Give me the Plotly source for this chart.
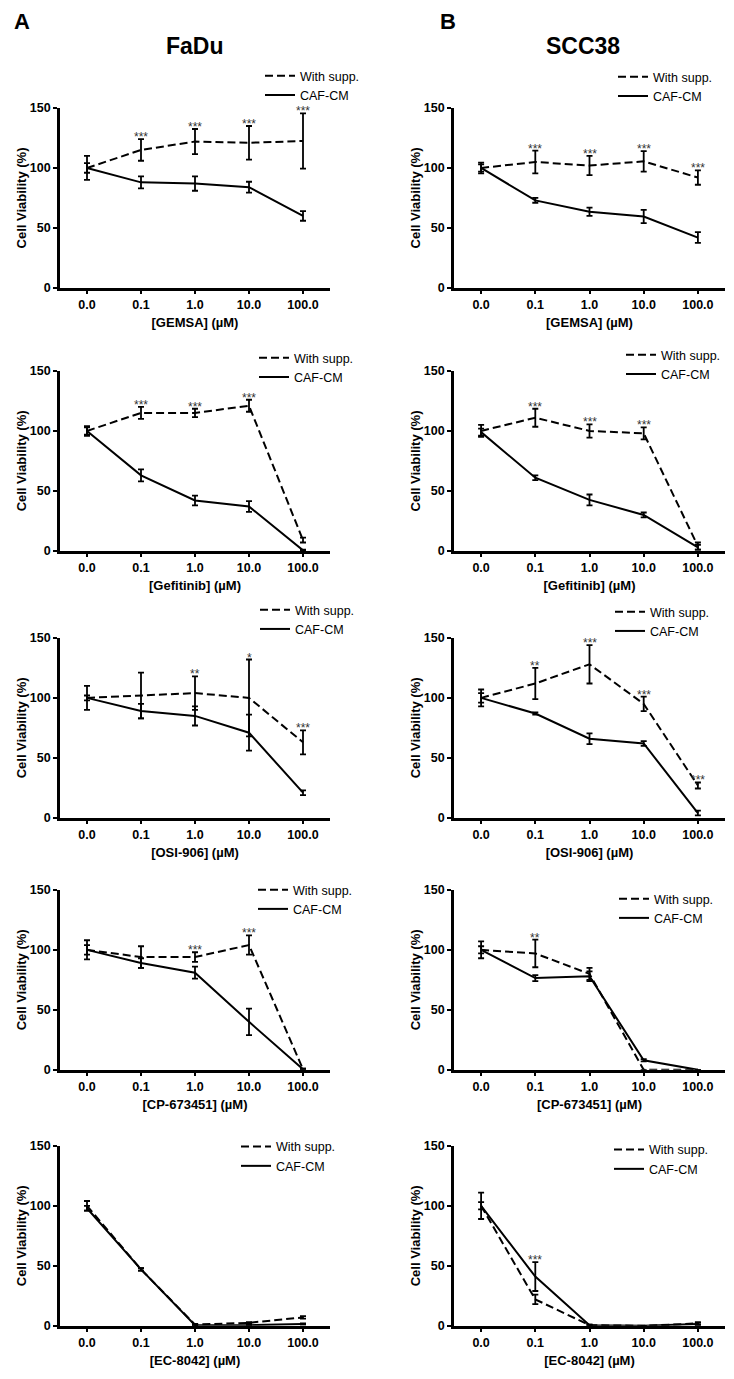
"""
Cell viability dose-response panels, FaDu (A) and SCC38 (B).
"""

import plotly.graph_objects as go


# x categories (µM)
doses = ['0.0', '0.1', '1.0', '10.0', '100.0']
compounds = ['GEMSA', 'Gefitinib', 'OSI-906', 'CP-673451', 'EC-8042']

# FaDu
fadu_gemsa_supp = [100, 115, 122, 121, 122.5]
fadu_gemsa_supp_err = [10, 9, 10.5, 14, 23]
fadu_gemsa_caf = [100, 88, 87, 84, 60]
fadu_gemsa_caf_err = [4, 5, 6, 4.5, 4]
fadu_gemsa_stars = ['', '***', '***', '***', '***']

fadu_gef_supp = [100, 115, 115, 121, 9]
fadu_gef_supp_err = [4, 5, 3.5, 5, 2]
fadu_gef_caf = [100, 63, 42, 37, 0.5]
fadu_gef_caf_err = [3, 5, 4, 4.5, 0.5]
fadu_gef_stars = ['', '***', '***', '***', '']

fadu_osi_supp = [100, 102, 104, 100, 63]
fadu_osi_supp_err = [10, 19, 14, 32, 10]
fadu_osi_caf = [100, 89, 85, 71, 21]
fadu_osi_caf_err = [2, 6, 8, 15, 2]
fadu_osi_stars = ['', '', '**', '*', '***']

fadu_cp_supp = [100, 94, 94, 104, 0.5]
fadu_cp_supp_err = [8, 9, 4, 8, 0.5]
fadu_cp_caf = [100, 89, 81, 40, 0.5]
fadu_cp_caf_err = [4, 4, 5, 11, 0.5]
fadu_cp_stars = ['', '', '***', '***', '']

fadu_ec_supp = [100, 47, 1, 2.5, 7]
fadu_ec_supp_err = [4, 1, 0.5, 0.5, 1]
fadu_ec_caf = [98, 47, 0.5, 0.5, 1.5]
fadu_ec_caf_err = [2, 1, 0.5, 0.5, 0.5]
fadu_ec_stars = ['', '', '', '', '']

# SCC38
scc_gemsa_supp = [100, 105, 102, 105.5, 92]
scc_gemsa_supp_err = [4.5, 9.5, 8, 8.5, 6]
scc_gemsa_caf = [100, 73, 63.5, 59.5, 42]
scc_gemsa_caf_err = [3, 2, 3.5, 5.5, 4.5]
scc_gemsa_stars = ['', '***', '***', '***', '***']

scc_gef_supp = [100, 111, 100, 98, 4]
scc_gef_supp_err = [5, 7.5, 5.5, 5, 3]
scc_gef_caf = [99, 61, 42.5, 30, 3]
scc_gef_caf_err = [3, 2, 4.5, 2, 2]
scc_gef_stars = ['', '***', '***', '***', '']

scc_osi_supp = [100, 112, 128, 95, 27]
scc_osi_supp_err = [7, 13, 16, 6, 2.5]
scc_osi_caf = [100, 87, 66, 62, 4]
scc_osi_caf_err = [4, 1, 4.5, 2, 2]
scc_osi_stars = ['', '**', '***', '***', '***']

scc_cp_supp = [100, 97, 80, 0, 0]
scc_cp_supp_err = [7, 11.5, 5, 0, 0]
scc_cp_caf = [100, 76.5, 78, 8, 0]
scc_cp_caf_err = [3, 2.5, 4, 1, 0]
scc_cp_stars = ['', '**', '', '', '']

scc_ec_supp = [100, 22, 0.5, 0, 2]
scc_ec_supp_err = [3, 4, 0.5, 0, 1]
scc_ec_caf = [100, 41, 0.5, 0, 1.5]
scc_ec_caf_err = [11, 12, 0.5, 0, 1]
scc_ec_stars = ['', '***', '', '', '']


# panels in reading order: (supp, supp_err, caf, caf_err, stars, compound)
panels = [
    (fadu_gemsa_supp, fadu_gemsa_supp_err, fadu_gemsa_caf, fadu_gemsa_caf_err, fadu_gemsa_stars, compounds[0]),
    (scc_gemsa_supp, scc_gemsa_supp_err, scc_gemsa_caf, scc_gemsa_caf_err, scc_gemsa_stars, compounds[0]),
    (fadu_gef_supp, fadu_gef_supp_err, fadu_gef_caf, fadu_gef_caf_err, fadu_gef_stars, compounds[1]),
    (scc_gef_supp, scc_gef_supp_err, scc_gef_caf, scc_gef_caf_err, scc_gef_stars, compounds[1]),
    (fadu_osi_supp, fadu_osi_supp_err, fadu_osi_caf, fadu_osi_caf_err, fadu_osi_stars, compounds[2]),
    (scc_osi_supp, scc_osi_supp_err, scc_osi_caf, scc_osi_caf_err, scc_osi_stars, compounds[2]),
    (fadu_cp_supp, fadu_cp_supp_err, fadu_cp_caf, fadu_cp_caf_err, fadu_cp_stars, compounds[3]),
    (scc_cp_supp, scc_cp_supp_err, scc_cp_caf, scc_cp_caf_err, scc_cp_stars, compounds[3]),
    (fadu_ec_supp, fadu_ec_supp_err, fadu_ec_caf, fadu_ec_caf_err, fadu_ec_stars, compounds[4]),
    (scc_ec_supp, scc_ec_supp_err, scc_ec_caf, scc_ec_caf_err, scc_ec_stars, compounds[4]),
]


# layout in pixels (as measured on the target picture)
W, H = 734, 1379
col_x = [(60, 330), (454, 725)]
row_y = [(108, 288), (371, 551), (638, 818), (890, 1070), (1146, 1326)]
# left edge of legend box, centre of first legend entry
legend_pos = [(260, 76), (613, 77), (254, 358), (621, 355), (255, 610),
              (610, 612), (253, 890), (614, 899), (236, 1147), (609, 1150)]


def py(y):
    # target pixel row -> paper fraction (small correction for how the page gets captured)
    return 1 - ((y - 7) / 0.99) / H


FONT = 'Arial, Liberation Sans, sans-serif'

fig = go.Figure()
layout = dict(width=W, height=H, margin=dict(l=0, r=0, t=0, b=0),
              plot_bgcolor='white', paper_bgcolor='white',
              font=dict(family=FONT, color='black'), annotations=[])

for i, (supp, supp_err, caf, caf_err, stars, name) in enumerate(panels):
    n = i + 1
    sfx = '' if n == 1 else str(n)
    r, c = divmod(i, 2)
    x0, x1 = col_x[c]
    y0, y1 = row_y[r]
    leg = 'legend' + sfx

    fig.add_trace(go.Scatter(x=doses, y=supp, name='With supp.', mode='lines',
                             line=dict(color='black', width=2, dash='8px,4px'),
                             error_y=dict(type='data', array=supp_err, color='black', thickness=1.8, width=3),
                             xaxis='x' + sfx, yaxis='y' + sfx, legend=leg, cliponaxis=False))
    fig.add_trace(go.Scatter(x=doses, y=caf, name='CAF-CM', mode='lines',
                             line=dict(color='black', width=2),
                             error_y=dict(type='data', array=caf_err, color='black', thickness=1.8, width=3),
                             xaxis='x' + sfx, yaxis='y' + sfx, legend=leg, cliponaxis=False))

    layout['xaxis' + sfx] = dict(
        domain=[x0 / W, x1 / W], anchor='y' + sfx, type='category', range=[-0.5, 4.5],
        showline=True, linewidth=2.8, linecolor='black', ticks='outside', ticklen=3, tickwidth=2,
        tickcolor='black', showgrid=False, zeroline=False,
        tickfont=dict(size=12.5, weight='bold'),
        title=dict(text='[%s] (µM)' % name, font=dict(size=13, weight='bold'), standoff=8))
    layout['yaxis' + sfx] = dict(
        domain=[py(y1), py(y0)], anchor='x' + sfx, range=[0, 150],
        tickvals=[0, 50, 100, 150], showline=True, linewidth=2.8, linecolor='black',
        ticks='outside', ticklen=4, tickwidth=2, tickcolor='black', showgrid=False, zeroline=False,
        tickfont=dict(size=12.5, weight='bold'),
        title=dict(text='Cell Viability (%)', font=dict(size=13, weight='bold'), standoff=1))

    lx, ly = legend_pos[i]
    layout[leg] = dict(x=lx / W, y=py(ly) + 15 / H, xanchor='left', yanchor='top',
                       bgcolor='rgba(0,0,0,0)', font=dict(size=12.5), tracegroupgap=0)

    # significance stars above the highest error bar (x given as category index)
    for k, s in enumerate(stars):
        if not s:
            continue
        top = max(supp[k] + supp_err[k], caf[k] + caf_err[k])
        layout['annotations'].append(dict(
            x=k, y=top, xref='x' + sfx, yref='y' + sfx, text=s, showarrow=False,
            yanchor='bottom', yshift=-7, font=dict(size=12, color='#333')))

# panel letters and cell line titles
for txt, x, y, size in [('A', 22, 22, 22), ('B', 448, 22, 22),
                        ('FaDu', 195, 46, 23), ('SCC38', 583, 46, 23)]:
    layout['annotations'].append(dict(
        x=x / W, y=py(y), xref='paper', yref='paper', text='<b>%s</b>' % txt,
        showarrow=False, xanchor='center', yanchor='middle', font=dict(size=size)))

fig.update_layout(**layout)
# page margin off so the figure sits exactly in the window
fig.write_html('out.html', config={'displayModeBar': False},
               post_script="document.body.style.margin='0';")
